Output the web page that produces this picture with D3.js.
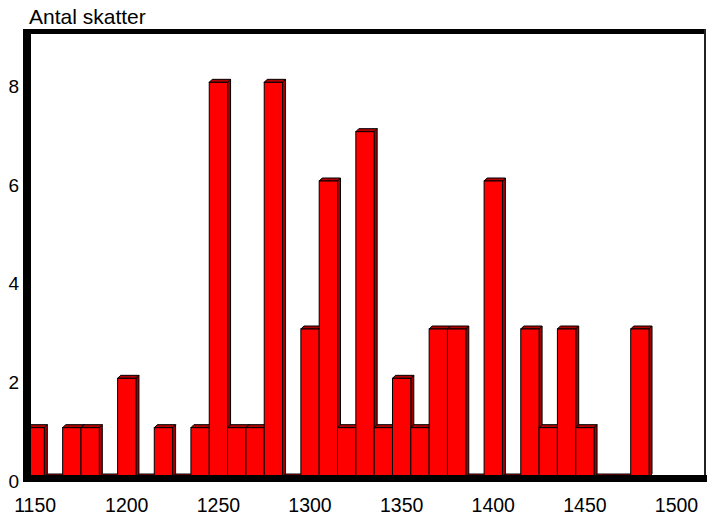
<!DOCTYPE html>
<html>
<head>
<meta charset="utf-8">
<script src="https://cdn.jsdelivr.net/npm/d3@7"></script>
<style>
  body { margin: 0; background: #fff; }
  text { font-family: Arial, "Liberation Sans", sans-serif; fill: #000; }
</style>
</head>
<body>
<div id="vis"></div>
<script>
// decade bins (centre year) and number of taxes in each
var years  = [1150, 1160, 1170, 1180, 1190, 1200, 1210, 1220, 1230, 1240,
              1250, 1260, 1270, 1280, 1290, 1300, 1310, 1320, 1330, 1340,
              1350, 1360, 1370, 1380, 1390, 1400, 1410, 1420, 1430, 1440,
              1450, 1460, 1470, 1480];
var counts = [1, 0, 1, 1, 0, 2, 0, 1, 0, 1,
              8, 1, 1, 8, 0, 3, 6, 1, 7, 1,
              2, 1, 3, 3, 0, 6, 0, 3, 1, 3,
              1, 0, 0, 3];
var xTicks = [1150, 1200, 1250, 1300, 1350, 1400, 1450, 1500];
var yTicks = [0, 2, 4, 6, 8];
var yTitle = "Antal skatter";

var W = 707, H = 516;
var depth = 3; // 3d offset of the bars

var svg = d3.select("#vis").append("svg")
    .attr("width", W)
    .attr("height", H);

var x = d3.scaleLinear().domain([1145, 1515]).range([26, 704]);
var y = d3.scaleLinear().domain([0, 9]).range([477, 33]);

var bars = svg.append("g")
  .selectAll("g")
  .data(years.map(function(d, i) { return {year: d, n: counts[i]}; }))
  .enter().append("g");

// right side face
bars.append("polygon")
    .attr("points", function(d) {
      var x1 = x(d.year + 5), t = y(d.n), b = y(0);
      return [[x1, t], [x1 + depth, t - depth], [x1 + depth, b - depth], [x1, b]].join(" ");
    })
    .attr("fill", "#a00000")
    .attr("stroke", "#000")
    .attr("stroke-width", 1);

// top face
bars.append("polygon")
    .attr("points", function(d) {
      var x0 = x(d.year - 5), x1 = x(d.year + 5), t = y(d.n);
      return [[x0, t], [x0 + depth, t - depth], [x1 + depth, t - depth], [x1, t]].join(" ");
    })
    .attr("fill", "#b00000")
    .attr("stroke", "#000")
    .attr("stroke-width", 1);

// front face
bars.append("rect")
    .attr("x", function(d) { return x(d.year - 5); })
    .attr("y", function(d) { return y(d.n); })
    .attr("width", function(d) { return x(d.year + 5) - x(d.year - 5); })
    .attr("height", function(d) { return y(0) - y(d.n); })
    .attr("fill", "#ff0000")
    .attr("stroke", "#000")
    .attr("stroke-width", 1);

// frame
svg.append("line").attr("x1", 23).attr("x2", 706).attr("y1", 31.5).attr("y2", 31.5)
    .attr("stroke", "#000").attr("stroke-width", 5);
svg.append("line").attr("x1", 705).attr("x2", 705).attr("y1", 29).attr("y2", 482)
    .attr("stroke", "#222").attr("stroke-width", 2);
svg.append("line").attr("x1", 23).attr("x2", 707).attr("y1", 478.5).attr("y2", 478.5)
    .attr("stroke", "#000").attr("stroke-width", 7);
svg.append("line").attr("x1", 27).attr("x2", 27).attr("y1", 29).attr("y2", 482)
    .attr("stroke", "#000").attr("stroke-width", 8);

// y labels
svg.append("g").selectAll("text")
  .data(yTicks)
  .enter().append("text")
    .attr("x", 19)
    .attr("y", function(d) { return y(d) + 4; })
    .attr("dy", "0.35em")
    .attr("text-anchor", "end")
    .style("font-size", "19px")
    .text(function(d) { return d; });

// x labels
svg.append("g").selectAll("text")
  .data(xTicks)
  .enter().append("text")
    .attr("x", function(d) { return x(d); })
    .attr("y", 512)
    .attr("text-anchor", "middle")
    .style("font-size", "19.5px")
    .text(function(d) { return d; });

svg.append("text")
    .attr("x", 29)
    .attr("y", 24)
    .style("font-size", "21px")
    .text(yTitle);
</script>
</body>
</html>
